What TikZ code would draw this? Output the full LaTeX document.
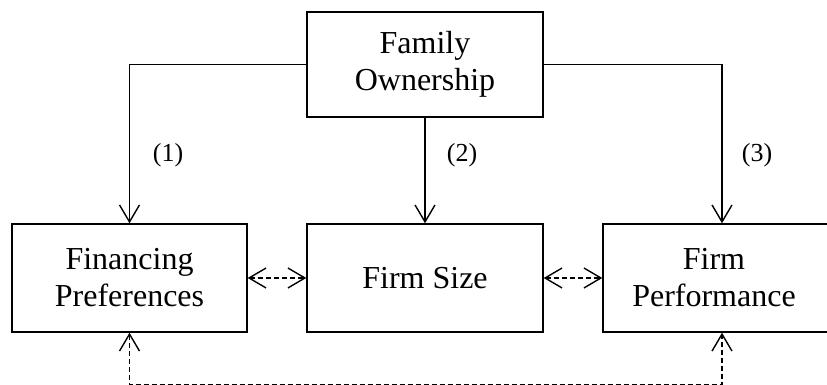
\documentclass[tikz,border=0pt]{standalone}
\usepackage{fontspec}
\setmainfont{Liberation Serif}
\usetikzlibrary{arrows.meta,calc}

\tikzset{
  box/.style={draw=black, line width=1.4pt, rectangle, align=center,
    inner sep=0pt, font=\fontsize{32}{37}\selectfont},
  barb/.tip={Straight Barb[length=17pt,width=20pt,line width=1.4pt]},
  link/.style={line width=1.4pt, -barb},
  both/.style={line width=1.6pt, dash pattern=on 5pt off 3pt, barb-barb},
  num/.style={font=\fontsize{26}{30}\selectfont, inner sep=0pt}
}

\begin{document}
\begin{tikzpicture}[x=1pt,y=1pt]
\useasboundingbox (0,0) rectangle (827,385);

% boxes
\node[box, minimum width=236pt, minimum height=105pt] (fam)  at (425,320.5) {Family\\Ownership};
\node[box, minimum width=235pt, minimum height=108pt] (fin)  at (129.5,107) {Financing\\Preferences};
\node[box, minimum width=236pt, minimum height=108pt] (size) at (425,107) {Firm Size};
\node[box, minimum width=238pt, minimum height=108pt] (perf) at (722,107) {\hspace*{-16pt}Firm\\\hspace*{-16pt}Performance};

% ownership effects
\coordinate (bendL) at (fin.north |- fam.west);
\coordinate (bendR) at (perf.north |- fam.east);
\draw[link] (fam.west) -- (bendL) -- (fin.north);
\draw[link] (fam.south) -- (size.north);
\draw[link] (fam.east) -- (bendR) -- (perf.north);

\node[num] (n1) at (168,230) {(1)};
\node[num] (n2) at (462,230) {(2)};
\node[num] (n3) at (757,230) {(3)};

% mutual relations
\draw[both] (fin.east) -- (size.west);
\draw[both] (size.east) -- (perf.west);

% return path along the lower edge
\coordinate (lowL) at ($(fin.south)+(0,-52)$);
\coordinate (lowR) at (perf.south |- lowL);
\draw[both] (fin.south) -- (lowL) -- (lowR) -- (perf.south);
\end{tikzpicture}
\end{document}
